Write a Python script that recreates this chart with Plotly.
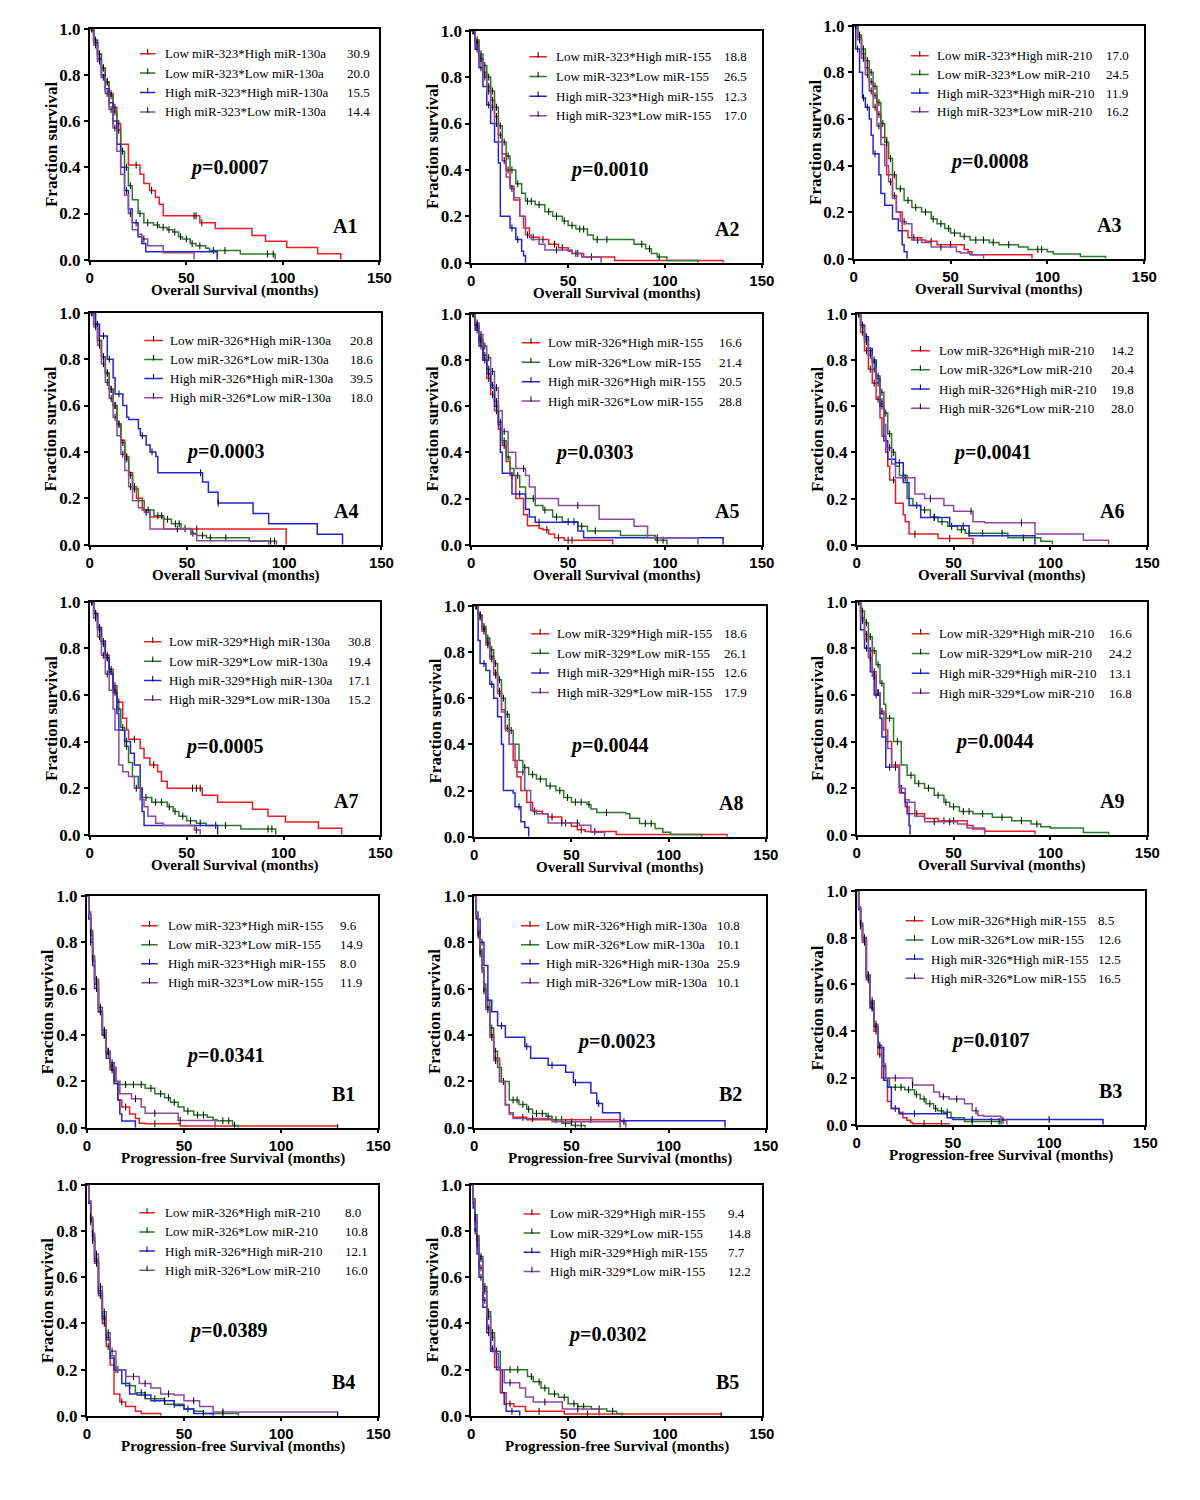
import plotly.graph_objects as go

# ---------------- DATA ----------------
panels = ["A1", "A2", "A3", "A4", "A5", "A6", "A7", "A8", "A9", "B1", "B2", "B3", "B4", "B5"]
mir_pairs = [("323", "130a"), ("323", "155"), ("323", "210"),
             ("326", "130a"), ("326", "155"), ("326", "210"),
             ("329", "130a"), ("329", "155"), ("329", "210"),
             ("323", "155"), ("326", "130a"), ("326", "155"), ("326", "210"), ("329", "155")]
level_first = ["Low", "Low", "High", "High"]
level_second = ["High", "Low", "High", "Low"]
medians = [
    ["30.9", "20.0", "15.5", "14.4"], ["18.8", "26.5", "12.3", "17.0"], ["17.0", "24.5", "11.9", "16.2"],
    ["20.8", "18.6", "39.5", "18.0"], ["16.6", "21.4", "20.5", "28.8"], ["14.2", "20.4", "19.8", "28.0"],
    ["30.8", "19.4", "17.1", "15.2"], ["18.6", "26.1", "12.6", "17.9"], ["16.6", "24.2", "13.1", "16.8"],
    ["9.6", "14.9", "8.0", "11.9"], ["10.8", "10.1", "25.9", "10.1"], ["8.5", "12.6", "12.5", "16.5"],
    ["8.0", "10.8", "12.1", "16.0"], ["9.4", "14.8", "7.7", "12.2"],
]
p_values = ["0.0007", "0.0010", "0.0008", "0.0003", "0.0303", "0.0041", "0.0005", "0.0044", "0.0044",
            "0.0341", "0.0023", "0.0107", "0.0389", "0.0302"]
x_titles = ["Overall Survival (months)"] * 9 + ["Progression-free Survival (months)"] * 5
y_title = "Fraction survival"
x_ticks = [0, 50, 100, 150]
y_ticks = [0.0, 0.2, 0.4, 0.6, 0.8, 1.0]

# Kaplan-Meier step curves: order red, green, blue, purple
A1_t = [[0,2,4,6,8,10,12,14,16,20,26,28,31,34,36,38,57,65,84,91,102,118,130],
        [0,2,4,6,8,10,12,14,16,18,20,22,25,28,33,36,40,43,46,48,52,55,60,62,78,96],
        [0,2,4,6,8,10,12,14,16,18,20,22,25,27,29,66],
        [0,2,4,6,8,10,12,14,16,18,20,22,25,27,30,38,54]]
A1_s = [[1,.95,.89,.83,.77,.72,.66,.59,.50,.41,.37,.33,.30,.27,.24,.19,.16,.135,.105,.08,.053,.026,0],
        [1,.95,.89,.83,.77,.71,.64,.56,.47,.40,.32,.26,.20,.16,.15,.14,.13,.12,.10,.09,.07,.06,.05,.04,.025,0],
        [1,.94,.87,.80,.74,.68,.60,.50,.40,.30,.22,.16,.10,.07,.035,0],
        [1,.93,.86,.79,.72,.65,.57,.47,.37,.28,.20,.13,.11,.09,.06,.03,0]]
A1_c = [[1,3,5,7,9,11,13,15,24,32,54,55,58],
        [1,3,5,7,9,11,13,15,17,19,21,26,30,35,38,41,44,47,50,53,57,64,70,92,95],
        [1,4,6,8,10,12,19,24],
        [1,3,5,7,9,11,13,21,28]]

A2_t = [[0,2,4,6,8,10,12,14,16,18,20,22,25,27,30,35,40,45,50,52,58,74,130],
        [0,2,4,6,8,10,12,14,16,18,20,23,26,28,33,38,42,47,50,54,60,63,84,90,93,96,101,117],
        [0,2,4,6,8,10,12,14,15,20,23,26,27,28],
        [0,2,4,6,8,10,12,14,16,18,20,22,25,28,31,35,38,52,57,67]]
A2_s = [[1,.95,.88,.82,.76,.70,.63,.55,.47,.40,.33,.27,.20,.15,.11,.10,.08,.065,.05,.04,.025,.01,0],
        [1,.96,.90,.85,.80,.74,.67,.59,.52,.46,.40,.34,.30,.265,.25,.22,.20,.18,.16,.145,.12,.10,.08,.06,.04,.025,.01,0],
        [1,.92,.84,.76,.68,.60,.52,.43,.20,.15,.10,.05,.03,0],
        [1,.94,.87,.80,.74,.67,.60,.52,.44,.37,.32,.28,.20,.12,.10,.08,.055,.04,.025,0]]
A2_c = [[1,3,5,7,9,11,13,15,19,32,37,43,47,55,62],
        [1,3,5,7,9,11,13,15,17,19,21,24,29,31,35,40,44,48,52,56,58,65,70,88,92,97],
        [1,3,5,9,21,24],
        [1,3,5,7,9,11,13,17,21,29,44,54]]

A3_t = [[0,2,4,6,8,10,12,14,17,20,22,25,28,35,37,43,57,59,61,92],
        [0,2,4,6,8,10,12,14,16,18,20,22,26,30,35,40,43,47,50,55,60,70,75,85,90,100,103,117,130],
        [0,1,3,4.5,6,8,9,10,13,14,16,20,23,25,26,27.5],
        [0,2,4,6,8,10,12,14,16,18,20,22,24,27,30,35,40,53,55,60,67]]
A3_s = [[1,.95,.88,.82,.76,.70,.62,.52,.36,.27,.20,.12,.09,.08,.075,.06,.04,.03,.017,0],
        [1,.96,.90,.85,.80,.74,.67,.58,.50,.43,.36,.30,.25,.22,.20,.17,.15,.13,.11,.095,.08,.07,.06,.05,.04,.03,.02,.01,0],
        [1,.9,.8,.69,.65,.6,.53,.45,.36,.28,.23,.17,.12,.06,.03,0],
        [1,.94,.86,.79,.72,.65,.57,.49,.40,.33,.26,.20,.16,.15,.08,.07,.05,.03,.025,.017,0]]
A3_c = [[1,3,5,7,9,11,13,21,31,40,50],
        [1,3,5,7,9,11,13,15,17,19,21,24,28,32,37,41,45,49,52,57,63,67,72,80,95,97],
        [2,5,7,11],
        [1,3,5,7,9,11,13,19,26,33,45]]

A4_t = [[0,2,4,6,8,10,12,14,16,18,20,22,24,27,31,38,101],
        [0,2,4,6,8,10,12,14,16,18,20,22,25,28,33,38,42,47,52,55,60,82,96],
        [0,3,5,9,12,13,17,19,20,25,26,29,31,34,35,58,61,66,84,92,117,130],
        [0,2,4,6,8,10,12,14,16,18,20,22,25,28,31,52,55,92]]
A4_s = [[1,.95,.88,.81,.74,.67,.60,.52,.45,.38,.31,.25,.20,.15,.12,.068,0],
        [1,.95,.88,.81,.74,.67,.60,.52,.44,.37,.30,.24,.19,.15,.125,.11,.09,.07,.05,.04,.03,.015,0],
        [1,.95,.9,.8,.72,.65,.6,.55,.54,.50,.47,.43,.40,.38,.31,.27,.226,.18,.135,.09,.045,0],
        [1,.94,.86,.78,.70,.63,.55,.47,.39,.32,.25,.19,.16,.14,.068,.045,.017,0]]
A4_c = [[1,3,5,7,9,11,13,15,19,23,55],
        [1,3,5,7,9,11,13,15,17,19,21,23,30,35,37,40,44,46,49,53,58,62,70,93,95],
        [2,4,7,10,15,27,32,57,66],
        [1,3,5,7,9,11,13,17,21,29,45]]

A5_t = [[0,2,4,6,8,10,12,14,16,18,20,23,27,29,35,37,40,43,48,73],
        [0,2,4,6,8,10,12,14,16,18,20,22,25,28,33,37,42,47,55,60,77,95,101],
        [0,2,4,6,8,10,12,14,15,16,21,28,30,33,55,58,130],
        [0,2,4,6,8,10,12,14,16,19,23,28,30,33,45,66,84,91,117]]
A5_s = [[1,.95,.88,.80,.72,.65,.58,.50,.43,.36,.30,.20,.13,.082,.07,.065,.046,.03,.02,0],
        [1,.95,.89,.82,.76,.69,.62,.53,.45,.38,.33,.30,.25,.20,.17,.15,.12,.10,.08,.06,.04,.02,0],
        [1,.93,.86,.80,.74,.68,.60,.52,.40,.31,.22,.154,.12,.097,.06,.03,0],
        [1,.96,.91,.86,.81,.75,.68,.58,.49,.40,.33,.30,.25,.20,.17,.11,.08,.03,0]]
A5_c = [[1,3,5,7,9,11,13,17,21,39,45,50,52],
        [1,3,5,7,9,11,13,15,17,19,24,32,38,44,50,53,57,64,96,99],
        [1,3,5,9,13,25,35],
        [1,3,5,7,9,11,13,17,27,55,96]]

A6_t = [[0,2,4,6,8,10,12,13,15,16,17,20,24,25,27,42,60],
        [0,2,4,6,8,10,12,14,16,18,20,22,26,29,33,38,42,47,52,56,78,95,101],
        [0,2,4,6,8,10,12,14,16,20,24,27,33,48,58,92],
        [0,2,4,6,8,10,12,14,15,18,20,30,35,45,50,60,66,92,117,130]]
A6_s = [[1,.92,.84,.76,.70,.63,.55,.47,.40,.34,.28,.18,.13,.10,.046,.027,0],
        [1,.95,.89,.84,.79,.73,.66,.57,.48,.40,.34,.30,.20,.17,.15,.12,.10,.08,.065,.05,.03,.015,0],
        [1,.95,.90,.85,.80,.72,.60,.45,.37,.355,.27,.17,.118,.082,.039,0],
        [1,.94,.88,.82,.76,.70,.62,.52,.42,.35,.29,.22,.20,.17,.145,.10,.095,.046,.02,0]]
A6_c = [[1,3,5,7,9,11,19,30,48],
        [1,3,5,7,9,11,13,15,17,19,24,31,35,40,44,49,54,58,65,75,86],
        [1,3,5,9,13,22,40,55],
        [1,3,5,7,9,11,13,17,25,38,59,85]]

A7_t = [[0,2,4,6,8,10,12,14,17,19,20,26,28,31,35,37,40,58,66,84,92,101,118,130],
        [0,2,4,6,8,10,12,14,16,18,20,22,25,27,32,40,43,46,50,55,60,78,96],
        [0,2,4,6,8,10,12,14,15,18,21,23,26,27,28,66],
        [0,2,4,6,8,10,12,13,15,17,20,23,26,28,30,34,38,54,57]]
A7_s = [[1,.95,.89,.83,.77,.71,.64,.57,.50,.45,.41,.37,.33,.30,.27,.23,.20,.17,.14,.11,.08,.055,.028,0],
        [1,.95,.88,.82,.76,.70,.62,.54,.46,.38,.31,.25,.20,.16,.14,.12,.10,.08,.06,.05,.04,.025,0],
        [1,.95,.89,.83,.76,.69,.61,.52,.45,.40,.35,.30,.20,.10,.04,0],
        [1,.93,.85,.77,.69,.62,.54,.45,.30,.27,.25,.20,.15,.12,.08,.05,.04,.02,0]]
A7_c = [[1,3,5,7,9,11,13,15,23,33,53,55,57],
        [1,3,5,7,9,11,13,15,17,19,29,34,37,41,44,48,52,57,65,70,92,94],
        [1,3,5,9,13,19],
        [1,3,5,7,9,24,55]]

A8_t = [[0,2,4,6,8,10,12,14,16,18,20,22,24,27,30,35,38,45,50,53,57,73,130],
        [0,2,4,6,8,10,12,14,16,18,20,23,25,28,32,37,42,46,50,58,60,63,78,80,85,93,97,101,117],
        [0,2,3,6,8,10,12,14,15,20,21,24,26,28],
        [0,2,4,6,8,10,12,14,16,18,21,22,26,29,32,38,54,60,67]]
A8_s = [[1,.96,.90,.84,.78,.71,.63,.55,.47,.40,.33,.26,.20,.15,.11,.10,.086,.06,.046,.03,.023,.01,0],
        [1,.96,.91,.86,.81,.75,.68,.60,.53,.46,.40,.33,.30,.27,.25,.22,.20,.17,.15,.14,.12,.105,.10,.08,.058,.036,.02,.01,0],
        [1,.85,.75,.72,.66,.60,.52,.40,.20,.19,.13,.065,.04,0],
        [1,.95,.89,.83,.77,.70,.62,.54,.46,.40,.30,.28,.20,.115,.10,.06,.05,.02,0]]
A8_c = [[1,3,5,7,9,11,13,17,31,40,47,55,62],
        [1,3,5,7,9,11,13,15,17,19,26,30,34,39,44,48,52,55,59,68,88,91],
        [1,5,9,23],
        [1,3,5,7,9,11,13,25,45,53]]

A9_t = [[0,2,4,6,8,10,12,15,18,22,25,27,35,42,57,60,66,92],
        [0,2,4,6,8,10,12,14,15,19,23,26,30,35,40,45,48,53,60,70,80,90,95,100,117,130],
        [0,2,4,7,9,12,13,15,22,23,25,26,27,27.5],
        [0,2,4,6,8,10,12,14,16,18,22,25,27,30,35,52,57,66]]
A9_s = [[1,.93,.86,.79,.70,.61,.52,.40,.30,.18,.12,.09,.07,.06,.04,.025,.015,0],
        [1,.96,.91,.85,.79,.73,.65,.56,.50,.40,.30,.255,.22,.20,.17,.14,.12,.10,.09,.075,.06,.046,.035,.029,.01,0],
        [1,.88,.80,.70,.60,.50,.42,.29,.21,.18,.14,.09,.04,0],
        [1,.92,.84,.76,.68,.61,.53,.45,.37,.29,.20,.15,.14,.08,.056,.046,.029,0]]
A9_c = [[1,3,5,7,9,11,20,31,45,50],
        [1,3,5,7,9,11,13,17,21,28,32,37,42,46,50,55,58,65,75,85,93],
        [1,5,10,17],
        [1,3,5,7,9,11,13,20,40,48]]

B1_t = [[0,1,2,3,4,6,8,10,12,14,16,18,22,25,27,30,48,129],
        [0,1,2,3,4,6,8,10,12,15,17,30,35,40,43,47,50,55,62,65,67,75,78],
        [0,1,2,3,4,6,8,10,12,14,16,17,18,25],
        [0,1,2,3,4,6,8,10,12,15,17,23,28,30,47,66]]
B1_s = [[1,.92,.83,.72,.62,.50,.40,.32,.25,.20,.12,.09,.06,.04,.02,.017,.008,0],
        [1,.93,.85,.74,.64,.52,.42,.33,.26,.20,.187,.17,.147,.13,.11,.09,.072,.055,.046,.035,.03,.01,0],
        [1,.9,.8,.7,.6,.5,.4,.3,.28,.19,.12,.06,.029,0],
        [1,.92,.84,.73,.63,.51,.41,.33,.26,.20,.147,.125,.09,.063,.032,0]]
B1_c = [[2,3,5,7,9,11,13,20,35,129],
        [2,3,5,7,9,11,13,20,24,28,33,38,42,45,52,57,60,70,73,76],
        [2,5,7,9,13],
        [2,3,5,7,9,11,13,25,35,48]]

B2_t = [[0,1,2,3,4,5,6,8,10,13,16,18,20,27,75],
        [0,1,2,3,4,5,6,8,10,12,14,18,23,27,30,37,40,45,50,57],
        [0,1,3,5,7,9,12,16,26,29,38,47,51,60,63,66,75,129],
        [0,1,2,3,4,5,6,8,10,13,16,18,20,40,78]]
B2_s = [[1,.92,.84,.76,.68,.60,.52,.40,.30,.20,.098,.06,.045,.035,0],
        [1,.93,.85,.77,.69,.62,.55,.43,.33,.26,.20,.12,.10,.08,.062,.05,.035,.02,.01,0],
        [1,.9,.8,.7,.55,.5,.44,.39,.35,.30,.27,.24,.195,.15,.105,.065,.03,0],
        [1,.92,.83,.75,.67,.59,.51,.39,.29,.20,.10,.065,.04,.026,0]]
B2_c = [[2,3,5,7,9,11,25,45,60],
        [2,3,5,7,9,11,13,15,20,22,25,28,32,35,38,42,47,52,55],
        [2,4,14,27,40,52,64],
        [2,3,5,7,9,11,30,50,77]]

B3_t = [[0,1,2,3,5,7,9,11,13,16,18,22,24,26,28,29,48],
        [0,1,2,3,5,7,9,11,13,15,17,25,30,33,36,40,42,45,49,56,75],
        [0,1,2,3,5,7,9,11,14,16,18,22,47,50,128],
        [0,1,2,3,5,7,9,11,13,15,29,40,43,48,56,60,63,66,75,78]]
B3_s = [[1,.92,.85,.78,.62,.50,.40,.30,.20,.10,.07,.054,.03,.02,.01,.005,0],
        [1,.93,.86,.79,.64,.52,.42,.33,.25,.20,.16,.15,.13,.11,.09,.07,.06,.054,.03,.014,0],
        [1,.92,.86,.80,.63,.50,.42,.33,.19,.16,.07,.047,.03,.023,0],
        [1,.93,.86,.79,.64,.53,.43,.34,.26,.20,.17,.14,.12,.11,.09,.06,.04,.037,.019,0]]
B3_c = [[2,4,6,8,10,12,20,35,44],
        [2,4,6,8,10,12,14,20,23,27,31,35,38,41,44,47,60,70,74],
        [2,4,8,30,60,100],
        [2,4,6,8,10,12,20,29,45,52,62,76]]

B4_t = [[0,1,2,3,4,6,8,10,12,14,17,20,25,28,38],
        [0,1,2,3,4,6,8,10,12,14,20,25,30,40,50,55,60,78],
        [0,1,2,3,4,6,8,10,12,14,18,22,26,33,45,50,55,65],
        [0,1,2,3,4,6,8,10,12,15,20,27,33,38,45,50,58,65,129]]
B4_s = [[1,.92,.84,.76,.66,.52,.40,.30,.22,.095,.06,.04,.02,.01,0],
        [1,.93,.86,.78,.68,.54,.43,.34,.26,.20,.13,.10,.074,.05,.03,.02,.01,0],
        [1,.92,.85,.77,.67,.53,.42,.33,.25,.20,.14,.095,.09,.065,.045,.03,.01,0],
        [1,.93,.86,.79,.70,.56,.45,.36,.28,.20,.17,.14,.12,.095,.09,.065,.04,.017,0]]
B4_c = [[2,3,5,7,9,11,18],
        [2,3,5,7,9,11,16,22,28,35,45,52,70],
        [2,5,9,15,30,40,60],
        [2,3,5,7,9,11,13,24,30,42,55,70,129]]

B5_t = [[0,1,2,3,4,6,8,10,12,15,18,22,28,48,129],
        [0,1,2,3,4,6,8,10,12,15,29,32,36,40,45,50,55,62,70,75,78],
        [0,1,2,3,4,6,8,10,13,16,17,18,25],
        [0,1,2,3,4,6,8,10,12,14,17,25,28,32,47,66]]
B5_s = [[1,.92,.84,.74,.64,.50,.38,.29,.21,.10,.052,.04,.02,.008,0],
        [1,.94,.87,.78,.69,.56,.45,.36,.28,.20,.17,.147,.12,.095,.08,.052,.04,.03,.02,.01,0],
        [1,.9,.8,.7,.6,.47,.36,.28,.20,.10,.05,.02,0],
        [1,.93,.86,.77,.68,.54,.43,.34,.27,.20,.143,.12,.082,.06,.03,0]]
B5_c = [[2,3,5,7,9,11,20,35,60,129],
        [2,3,5,7,9,11,13,20,24,31,35,38,43,48,53,58,66,73],
        [2,5,9,21],
        [2,3,5,7,9,11,20,38,55]]

curve_data = {
    "A1": (A1_t, A1_s, A1_c), "A2": (A2_t, A2_s, A2_c), "A3": (A3_t, A3_s, A3_c),
    "A4": (A4_t, A4_s, A4_c), "A5": (A5_t, A5_s, A5_c), "A6": (A6_t, A6_s, A6_c),
    "A7": (A7_t, A7_s, A7_c), "A8": (A8_t, A8_s, A8_c), "A9": (A9_t, A9_s, A9_c),
    "B1": (B1_t, B1_s, B1_c), "B2": (B2_t, B2_s, B2_c), "B3": (B3_t, B3_s, B3_c),
    "B4": (B4_t, B4_s, B4_c), "B5": (B5_t, B5_s, B5_c),
}

# ---------------- LAYOUT / STYLE ----------------
PAD = 8            # default page margin around the figure
W, H = 1184, 1472  # keep the page inside the 1200x1500 window
# correction for the capture (scale and offset observed on earlier renders)
CAP_SCALE, CAP_DX, CAP_DY = 0.987, 4.2, 10.4
# plot-area boxes in target picture pixels: (left, right, top, bottom)
boxes = [(90, 380, 30, 261), (472, 763, 32, 264), (855, 1146, 27, 260),
         (90, 382, 314, 546), (472, 763, 315, 546), (858, 1149, 315, 546),
         (90, 381, 603, 836), (475, 767, 607, 838), (858, 1149, 603, 836),
         (87, 379, 897, 1129), (475, 767, 897, 1129), (858, 1147, 892, 1126),
         (87, 379, 1186, 1417), (472, 763, 1186, 1417)]
# legend placement in data units: (line x0, line x1, text x, value x, first row y, row step)
legend_pos = [(26, 34, 37.8, 132, .892, .084), (30, 39, 42.8, 129.6, .888, .085), (29.5, 38.7, 41.9, 129, .871, .080),
              (28, 37.6, 40, 133, .880, .082), (26, 35.6, 38.8, 127, .874, .084), (28, 37.7, 41.4, 130, .840, .083),
              (28, 37, 40, 132, .828, .083), (29.3, 38.5, 41.6, 127.4, .879, .085), (28.4, 37.6, 41.3, 129, .863, .085),
              (28, 36.5, 40.6, 129, .871, .082), (24, 33.4, 36, 124, .871, .082), (25.4, 34.7, 37.3, 124.6, .872, .082),
              (27, 35, 39, 132, .879, .083), (27, 35.6, 39.7, 131.4, .874, .083)]
p_pos = [(72, .40), (71, .40), (69.6, .416), (69.3, .40), (63.4, .40), (69.6, .40), (69.3, .38), (69.3, .394),
         (70.6, .40), (70.9, .31), (73, .37), (69.5, .36), (72.4, .37), (70, .35)]
colors = ["#ec1c24", "#2a7a2a", "#2424d4", "#8a4a9e"]
SERIF = "Liberation Serif, Times New Roman, serif"
SANS = "Liberation Sans, Arial, sans-serif"


def fig_x(px):
    return ((px - CAP_DX) / CAP_SCALE - PAD) / W


def fig_y(py):
    return 1 - ((py - CAP_DY) / CAP_SCALE - PAD) / H


def step_at(T, S, t):
    v = S[0]
    for ti, si in zip(T, S):
        if ti <= t:
            v = si
        else:
            break
    return v


fig = go.Figure()
layout = dict(width=W, height=H, margin=dict(l=0, r=0, t=0, b=0), autosize=False,
              paper_bgcolor="white", plot_bgcolor="white", showlegend=False)
annotations = []
shapes = []

for k, name in enumerate(panels):
    n = k + 1
    xs = "x" if n == 1 else f"x{n}"
    ys = "y" if n == 1 else f"y{n}"
    xa = "xaxis" if n == 1 else f"xaxis{n}"
    ya = "yaxis" if n == 1 else f"yaxis{n}"
    l, r, t, b = boxes[k]
    layout[xa] = dict(domain=[fig_x(l), fig_x(r)], range=[0, 150], tickvals=x_ticks, anchor=ys,
                      showline=True, linecolor="black", linewidth=1.6, mirror=True,
                      ticks="outside", ticklen=3, tickwidth=1.5, tickcolor="black",
                      showgrid=False, zeroline=False,
                      tickfont=dict(family=SANS, size=15, color="black", weight="bold"))
    layout[ya] = dict(domain=[fig_y(b), fig_y(t)], range=[0, 1.0], tickvals=y_ticks,
                      tickformat=".1f", anchor=xs, showline=True, linecolor="black", linewidth=1.6, mirror=True,
                      ticks="outside", ticklen=4, tickwidth=1.5, tickcolor="black",
                      showgrid=False, zeroline=False,
                      tickfont=dict(family=SERIF, size=17, color="black", weight="bold"))

    T_list, S_list, C_list = curve_data[name]
    for j in range(4):
        T, S, C = T_list[j], S_list[j], C_list[j]
        fig.add_trace(go.Scatter(x=T, y=S, mode="lines", line=dict(color=colors[j], width=1.5, shape="hv"),
                                 xaxis=xs, yaxis=ys, hoverinfo="skip"))
        fig.add_trace(go.Scatter(x=C, y=[step_at(T, S, c) for c in C], mode="markers",
                                 marker=dict(symbol="line-ns", size=5, color="black",
                                             line=dict(color="black", width=1)),
                                 xaxis=xs, yaxis=ys, hoverinfo="skip"))

    # legend
    lx0, lx1, tx, vx, y0, dy = legend_pos[k]
    m1, m2 = mir_pairs[k]
    for j in range(4):
        yy = y0 - j * dy
        shapes.append(dict(type="line", xref=xs, yref=ys, x0=lx0, x1=lx1, y0=yy, y1=yy,
                           line=dict(color=colors[j], width=1.5)))
        xm = (lx0 + lx1) / 2
        shapes.append(dict(type="line", xref=xs, yref=ys, x0=xm, x1=xm, y0=yy - 0.004, y1=yy + 0.02,
                           line=dict(color="black", width=1)))
        label = f"{level_first[j]} miR-{m1}*{level_second[j]} miR-{m2}"
        annotations.append(dict(xref=xs, yref=ys, x=tx, y=yy, text=label, showarrow=False,
                                xanchor="left", yanchor="middle",
                                font=dict(family=SERIF, size=13, color="black")))
        annotations.append(dict(xref=xs, yref=ys, x=vx, y=yy, text=medians[k][j], showarrow=False,
                                xanchor="left", yanchor="middle",
                                font=dict(family=SERIF, size=13, color="black")))

    # p-value
    px, py = p_pos[k]
    annotations.append(dict(xref=xs, yref=ys, x=px, y=py, text=f"<b><i>p</i>=" + p_values[k] + "</b>",
                            showarrow=False, xanchor="center", yanchor="middle",
                            font=dict(family=SERIF, size=20, color="black")))
    # panel label
    annotations.append(dict(xref=xs, yref=ys, x=132, y=0.145, text=f"<b>{name}</b>", showarrow=False,
                            xanchor="center", yanchor="middle",
                            font=dict(family=SERIF, size=20, color="black")))
    # axis titles
    annotations.append(dict(xref=f"{xs} domain", yref=f"{ys} domain", x=0.5, y=0, yshift=-31,
                            text=f"<b>{x_titles[k]}</b>", showarrow=False, xanchor="center", yanchor="middle",
                            font=dict(family=SERIF, size=15, color="black")))
    annotations.append(dict(xref=f"{xs} domain", yref=f"{ys} domain", x=0, xshift=-39, y=0.5,
                            text=f"<b>{y_title}</b>", showarrow=False, textangle=-90,
                            xanchor="center", yanchor="middle",
                            font=dict(family=SERIF, size=17, color="black")))

layout["annotations"] = annotations
layout["shapes"] = shapes
fig.update_layout(**layout)
fig.write_html("out.html")
